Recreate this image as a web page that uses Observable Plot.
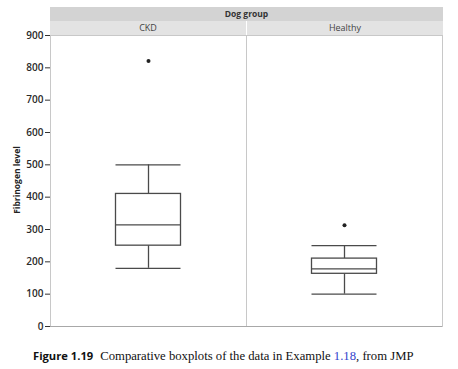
<!DOCTYPE html>
<html><head><meta charset="utf-8">
<script src="https://cdn.jsdelivr.net/npm/d3@7"></script>
<script src="https://cdn.jsdelivr.net/npm/@observablehq/plot@0.6"></script>
<style>
body{margin:0;background:#fff;width:458px;height:369px;overflow:hidden;position:relative;font-family:"Open Sans",sans-serif}
#hdr1{position:absolute;left:50px;top:7px;width:393px;height:14px;background:#d3d3d3;font-weight:bold;font-size:8.5px;line-height:14px;text-align:center;color:#333}
.hdr2{position:absolute;top:21px;width:196px;height:14px;background:#e3e3e3;font-size:9px;line-height:14px;text-align:center;color:#444}
#chart{position:absolute;left:0;top:0}
#chart svg text{font-weight:600;fill:#2a2a2a}
#ylab{position:absolute;left:16px;top:180px;transform:translate(-50%,-50%) rotate(-90deg);font-weight:bold;font-size:8.5px;color:#222;white-space:nowrap}
#cap{position:absolute;left:33px;top:348px;white-space:nowrap;font-family:"Liberation Serif",serif;font-size:12.7px;color:#111}
#cap b{font-family:"Open Sans",sans-serif;font-size:11.2px;margin-right:7px}
#cap span{color:#3344cc}
</style></head><body>
<div id="hdr1">Dog group</div>
<div class="hdr2" id="h_ckd" style="left:50px">CKD</div>
<div class="hdr2" id="h_hl" style="left:247px">Healthy</div>
<div id="chart"></div>
<div id="ylab">Fibrinogen level</div>
<div id="cap"><b>Figure 1.19</b>Comparative boxplots of the data in Example <span>1.18</span>, from JMP</div>
<script>
const groups = ["CKD", "Healthy"];
const whiskerLow = [180, 100];
const q1 = [250, 163];
const median = [314, 178];
const q3 = [410, 210];
const whiskerHigh = [500, 250];
const outlierGroup = ["CKD", "Healthy"];
const outlierValue = [821, 313];
const yTicks = [0, 100, 200, 300, 400, 500, 600, 700, 800, 900];

const rows = groups.map((g, i) => ({g, lo: whiskerLow[i], q1: q1[i], med: median[i], q3: q3[i], hi: whiskerHigh[i]}));
const outs = outlierGroup.map((g, i) => ({g, v: outlierValue[i]}));
const ink = "#4a4a4a";
const inset = 65.5;
const slot = () => "box";

const plot = Plot.plot({
  width: 458, height: 340,
  marginLeft: 50, marginRight: 16, marginTop: 35, marginBottom: 14,
  style: {fontFamily: "Open Sans, sans-serif", fontSize: "10px", color: "#333", background: "transparent"},
  fx: {domain: groups, padding: 0, axis: null},
  x: {domain: ["box"], padding: 0, axis: null},
  y: {domain: [0, 900], ticks: yTicks, tickSize: 5, tickPadding: 2, label: null, line: false},
  marks: [
    Plot.frame({stroke: "#c8c8c8"}),
    Plot.ruleY([0], {stroke: "#a8a8a8"}),
    Plot.ruleX(rows, {fx: "g", x: slot, y1: "lo", y2: "q1", stroke: ink, strokeWidth: 1.3}),
    Plot.ruleX(rows, {fx: "g", x: slot, y1: "q3", y2: "hi", stroke: ink, strokeWidth: 1.3}),
    Plot.barY(rows, {fx: "g", x: slot, y1: "q1", y2: "q3", fill: "white", stroke: ink, strokeWidth: 1.3, insetLeft: inset, insetRight: inset}),
    Plot.tickY(rows, {fx: "g", x: slot, y: "med", stroke: ink, strokeWidth: 1.3, insetLeft: inset, insetRight: inset}),
    Plot.tickY(rows, {fx: "g", x: slot, y: "lo", stroke: ink, strokeWidth: 1.3, insetLeft: inset, insetRight: inset}),
    Plot.tickY(rows, {fx: "g", x: slot, y: "hi", stroke: ink, strokeWidth: 1.3, insetLeft: inset, insetRight: inset}),
    Plot.dot(outs, {fx: "g", x: slot, y: "v", r: 2, fill: "#222", stroke: "none"})
  ]
});
document.getElementById("chart").appendChild(plot);
</script>
</body></html>
